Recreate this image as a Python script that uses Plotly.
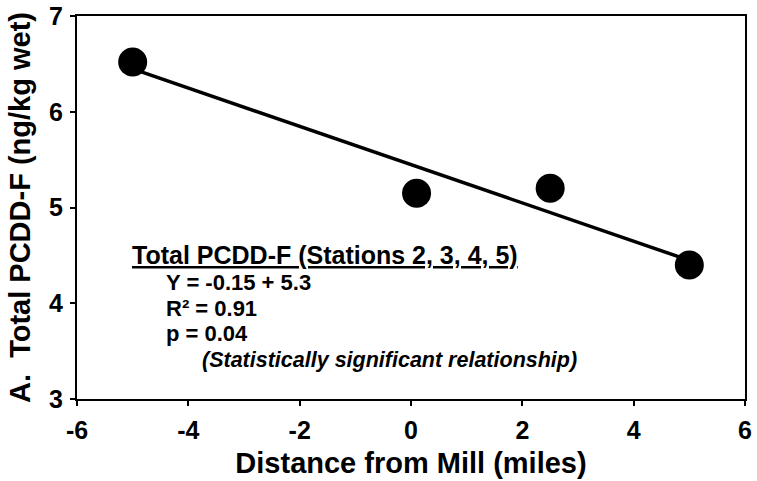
import numpy as np
import plotly.graph_objects as go

# Station distances from the mill (miles) and total PCDD-F (ng/kg wet)
distance = [-5.0, 0.1, 2.5, 5.0]
pcdd_f = [6.52, 5.15, 5.20, 4.40]

x_ticks = [-6, -4, -2, 0, 2, 4, 6]
y_ticks = [3, 4, 5, 6, 7]

stats_title = "Total PCDD-F (Stations 2, 3, 4, 5)"
stats_lines = ["Y = -0.15 + 5.3", "R² = 0.91", "p = 0.04"]
stats_note = "(Statistically significant relationship)"

# Least-squares regression line across the stations
slope, intercept = np.polyfit(distance, pcdd_f, 1)
fit_x = [min(distance), max(distance)]
fit_y = [slope * v + intercept for v in fit_x]

FONT = "Liberation Sans, Arial, sans-serif"

fig = go.Figure()
fig.add_trace(go.Scatter(
    x=fit_x, y=fit_y, mode="lines",
    line=dict(color="black", width=3.5),
    hoverinfo="skip", showlegend=False,
))
fig.add_trace(go.Scatter(
    x=distance, y=pcdd_f, mode="markers",
    marker=dict(color="black", size=29, line=dict(width=0)),
    showlegend=False,
))

axis_common = dict(
    showline=True, linecolor="black", linewidth=2, mirror=True,
    showgrid=False, zeroline=False, automargin=False,
    ticks="outside", ticklen=5, tickwidth=1.5, tickcolor="black",
    tickfont=dict(family=FONT, size=25, color="black", weight="bold"),
)

fig.update_xaxes(
    range=[-6, 6], tickvals=x_ticks, ticktext=[str(t) for t in x_ticks],
    ticklabelstandoff=3,
    title=dict(text="Distance from Mill (miles)", standoff=10,
               font=dict(family=FONT, size=29, color="black", weight="bold")),
    **axis_common,
)
fig.update_yaxes(
    range=[3, 7], tickvals=y_ticks, ticktext=[str(t) for t in y_ticks],
    ticklabelstandoff=2,
    title=dict(text="A.  Total PCDD-F (ng/kg wet)", standoff=10,
               font=dict(family=FONT, size=29, color="black", weight="bold")),
    **axis_common,
)

ann_font = dict(family=FONT, size=25, color="black", weight="bold")
line_font = dict(family=FONT, size=22, color="black", weight="bold")
fig.add_annotation(x=-5.05, y=4.50, text="<u>" + stats_title + "</u>",
                   showarrow=False, xanchor="left", yanchor="middle", font=ann_font)
for yv, line in zip([4.217, 3.946, 3.686], stats_lines):
    fig.add_annotation(x=-4.44, y=yv, text=line, showarrow=False,
                       xanchor="left", yanchor="middle", font=line_font)
fig.add_annotation(x=-3.79, y=3.404, text="<i>" + stats_note + "</i>",
                   showarrow=False, xanchor="left", yanchor="middle",
                   font=dict(family=FONT, size=21.5, color="black", weight="bold",
                             style="italic"))

fig.update_layout(
    width=757, height=481,
    margin=dict(l=77, r=12, t=16, b=82),
    plot_bgcolor="white", paper_bgcolor="white",
    font=dict(family=FONT, color="black"),
)

fig.write_html("out.html")
